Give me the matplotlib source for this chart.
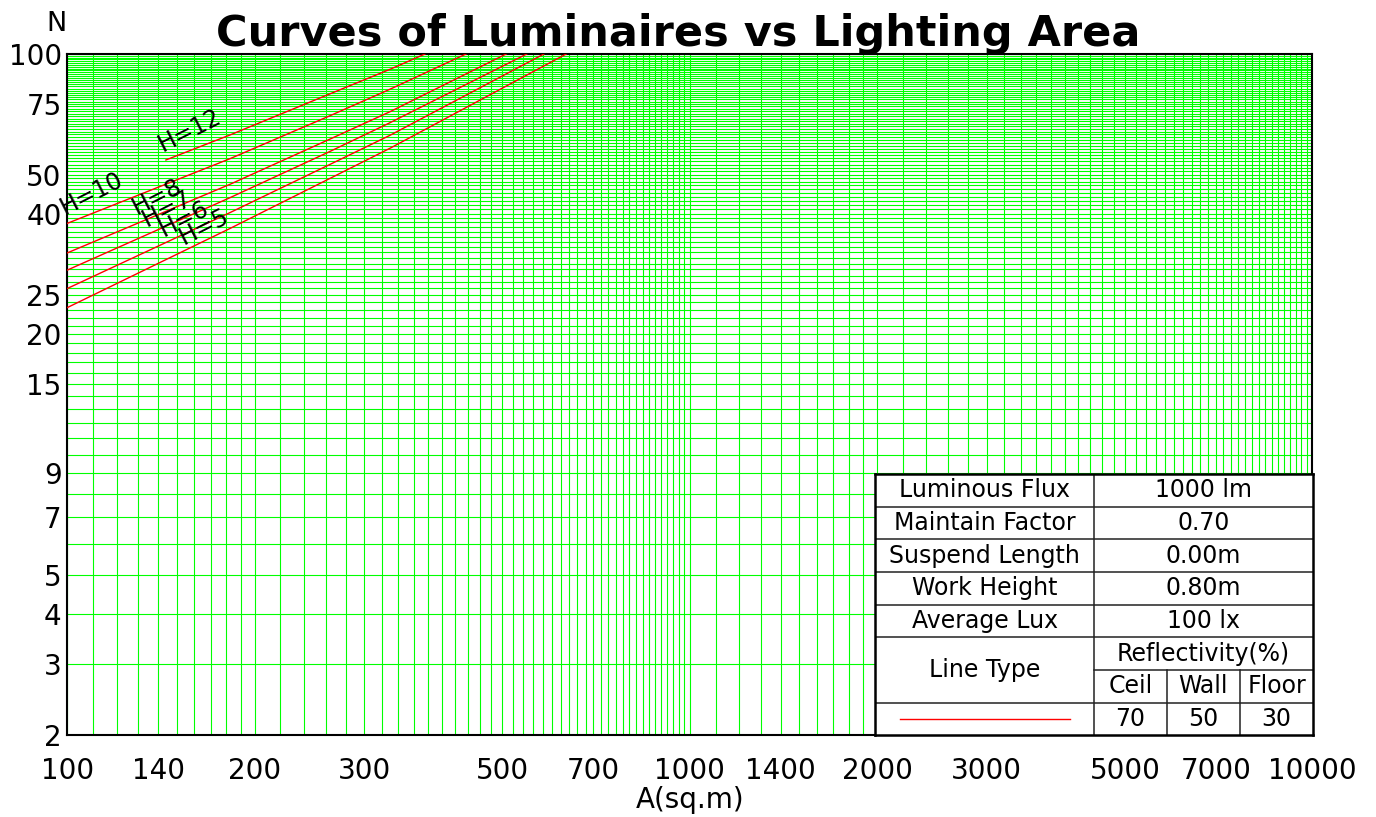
import numpy as np
import matplotlib
matplotlib.use("Agg")
import matplotlib.pyplot as plt
from matplotlib.ticker import FixedLocator, NullFormatter

# ---------------- data ----------------
heights = [12, 10, 8, 7, 6, 5]
area_h12 = [144, 182.5, 264, 330, 375.5]
lum_h12 = [54.4, 62.8, 79.5, 91.6, 100]
area_h10 = [100, 182.5, 264, 330, 437]
lum_h10 = [37.8, 54.8, 70.1, 81.7, 100]
area_h8 = [100, 182.5, 264, 330, 507]
lum_h8 = [31.9, 47.3, 61.3, 71.8, 100]
area_h7 = [100, 182.5, 264, 330, 547]
lum_h7 = [28.9, 43.8, 57.1, 67.4, 100]
area_h6 = [100, 182.5, 264, 330, 583]
lum_h6 = [26.0, 40.2, 53.0, 62.7, 100]
area_h5 = [100, 182.5, 264, 330, 633]
lum_h5 = [23.3, 36.7, 48.9, 58.2, 100]

# label anchor points (data coords) for the H=.. annotations
label_area = [157.4, 109.4, 139.2, 144.4, 154.0, 165.8]
label_lum = [64.3, 44.9, 44.0, 41.1, 38.8, 37.1]

x_ticks = [100, 140, 200, 300, 500, 700, 1000, 1400, 2000, 3000, 5000, 7000, 10000]
x_tick_labels = [str(v) for v in x_ticks]
y_ticks = [2, 3, 4, 5, 7, 9, 15, 20, 25, 40, 50, 75, 100]
y_tick_labels = [str(v) for v in y_ticks]

row_labels = ["Luminous Flux", "Maintain Factor", "Suspend Length", "Work Height", "Average Lux"]
row_values = ["1000 lm", "0.70", "0.00m", "0.80m", "100 lx"]
refl_headers = ["Ceil", "Wall", "Floor"]
refl_values = ["70", "50", "30"]

title = "Curves of Luminaires vs Lighting Area"

# ---------------- figure ----------------
W, H = 1376, 817
fig = plt.figure(figsize=(W / 100, H / 100), dpi=100)
fig.patch.set_facecolor("white")

L, R, T, B = 67.3, 1312.3, 54, 735
ax = fig.add_axes([L / W, 1 - B / H, (R - L) / W, (B - T) / H])
ax.set_xscale("log")
ax.set_yscale("log")
ax.set_xlim(100, 10000)
ax.set_ylim(2, 100)

# grid positions
grid_x = np.concatenate([np.arange(110, 200, 10), np.arange(200, 1000, 20),
                         np.arange(1000, 2000, 100), np.arange(2000, 10000, 200)])
grid_y = np.arange(3, 100, 1)

ax.set_xticks(x_ticks)
ax.set_xticklabels(x_tick_labels)
ax.set_yticks(y_ticks)
ax.set_yticklabels(y_tick_labels)
ax.xaxis.set_minor_locator(FixedLocator(grid_x))
ax.yaxis.set_minor_locator(FixedLocator(grid_y))
ax.xaxis.set_minor_formatter(NullFormatter())
ax.yaxis.set_minor_formatter(NullFormatter())
ax.tick_params(which="both", length=0, labelsize=20)
ax.tick_params(axis="x", pad=16)
ax.tick_params(axis="y", pad=4)
ax.grid(which="both", color="#00ff00", linewidth=0.8)
ax.set_axisbelow(True)
for sp in ax.spines.values():
    sp.set_color("black")
    sp.set_linewidth(1.5)

series = [(area_h12, lum_h12), (area_h10, lum_h10), (area_h8, lum_h8),
          (area_h7, lum_h7), (area_h6, lum_h6), (area_h5, lum_h5)]
for (a, n), h, la, ln in zip(series, heights, label_area, label_lum):
    ax.plot(a, n, color="red", linewidth=1.0, zorder=3)
    ax.text(la, ln, f"H={h}", rotation=27, ha="center", va="center",
            fontsize=17, zorder=4, clip_on=False)

# texts
fig.text(678 / W, 1 - 46 / H, title, ha="center", va="baseline",
         fontsize=31, fontweight="bold")
fig.text(57 / W, 1 - 31 / H, "N", ha="center", va="baseline", fontsize=19.5)
fig.text(690 / W, 1 - 808 / H, "A(sq.m)", ha="center", va="baseline", fontsize=20)

# ---------------- table ----------------
tx0, tx1, ty0, ty1 = 875, 1313, 474, 735
tax = fig.add_axes([tx0 / W, 1 - ty1 / H, (tx1 - tx0) / W, (ty1 - ty0) / H], zorder=5)
tax.set_xlim(tx0, tx1)
tax.set_ylim(ty1, ty0)
tax.set_facecolor("white")
tax.set_xticks([])
tax.set_yticks([])
for sp in tax.spines.values():
    sp.set_color("black")
    sp.set_linewidth(1.8)

rows_y = [474, 506.5, 539.3, 572.3, 604.5, 637.3]
col_mid = 1094.3
sub_cols = [1166.7, 1240]
ref_mid_y = 670
last_row_y = 702.5
inner = dict(color="#222222", linewidth=1.1)

for y in rows_y[1:]:
    tax.plot([tx0, tx1], [y, y], **inner)
tax.plot([tx0, tx1], [last_row_y, last_row_y], **inner)
tax.plot([col_mid, tx1], [ref_mid_y, ref_mid_y], **inner)
tax.plot([col_mid, col_mid], [ty0, ty1], **inner)
for cx in sub_cols:
    tax.plot([cx, cx], [ref_mid_y, ty1], **inner)

fs = 17
lc = (tx0 + col_mid) / 2
rc = (col_mid + tx1) / 2
for i, (lab, val) in enumerate(zip(row_labels, row_values)):
    yc = (rows_y[i] + rows_y[i + 1]) / 2
    tax.text(lc, yc, lab, ha="center", va="center", fontsize=fs)
    tax.text(rc, yc, val, ha="center", va="center", fontsize=fs)

tax.text(lc, (rows_y[-1] + last_row_y) / 2, "Line Type", ha="center", va="center", fontsize=fs)
tax.text(rc, (rows_y[-1] + ref_mid_y) / 2, "Reflectivity(%)", ha="center", va="center", fontsize=fs)
sub_edges = [col_mid] + sub_cols + [tx1]
for j, (hd, v) in enumerate(zip(refl_headers, refl_values)):
    cx = (sub_edges[j] + sub_edges[j + 1]) / 2
    tax.text(cx, (ref_mid_y + last_row_y) / 2, hd, ha="center", va="center", fontsize=fs)
    tax.text(cx, (last_row_y + ty1) / 2, v, ha="center", va="center", fontsize=fs)
tax.plot([900, 1070], [719, 719], color="red", linewidth=1.0)

fig.savefig("out.png", dpi=100, facecolor="white")
